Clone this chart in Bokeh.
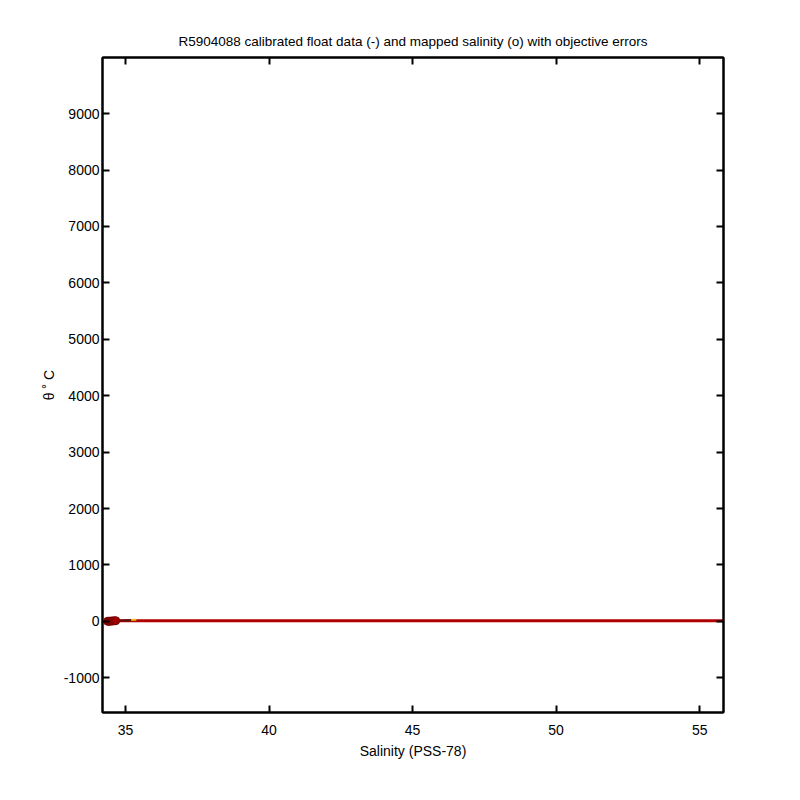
from bokeh.plotting import figure
from bokeh.models import LinearAxis, FixedTicker, Range1d
from bokeh.embed import file_html
from bokeh.resources import INLINE

# ---- data ----
title_text = "R5904088 calibrated float data (-) and mapped salinity (o) with objective errors"
x_ticks = [35, 40, 45, 50, 55]
y_ticks = [-1000, 0, 1000, 2000, 3000, 4000, 5000, 6000, 7000, 8000, 9000]

# calibrated float profiles (salinity, potential temperature)
float_sal_a = [34.36, 34.40, 34.45, 34.55, 34.70, 34.90, 35.10, 35.30]
float_theta_a = [1.2, 2.0, 3.5, 6.0, 10.0, 16.0, 22.0, 26.0]
float_sal_b = [34.34, 34.37, 34.42]
float_theta_b = [1.0, 1.5, 2.5]
float_sal_c = [35.20, 35.30, 35.38]
float_theta_c = [24.0, 27.0, 28.0]

# mapped salinity (o) with objective errors
map_sal = [34.38, 34.42, 34.46, 34.50, 34.55, 34.60, 34.66]
map_theta = [1.5, 2.5, 3.5, 5.0, 7.0, 9.0, 12.0]
map_err = [0.02, 0.02, 0.03, 0.03, 0.04, 0.05, 0.06]
# mapped salinity outlier line running to the right limit
map_line_sal = [34.66, 55.83]
map_line_theta = [12.0, 12.0]

x_min, x_max = 34.2, 55.83
y_min, y_max = -1615, 9994

p = figure(width=784, height=784, output_backend="svg", toolbar_location=None,
           x_range=Range1d(x_min, x_max), y_range=Range1d(y_min, y_max),
           min_border_left=102, min_border_right=61, min_border_top=57, min_border_bottom=72,
           x_axis_label="Salinity (PSS-78)", y_axis_label="θ ˚ C")

p.title.text = title_text
p.title.align = "center"
p.title.text_font = "Liberation Sans"
p.title.text_font_size = "13.5px"
p.title.text_font_style = "normal"
p.title.text_color = "black"
p.title.standoff = 18

p.grid.visible = False
p.outline_line_color = "black"
p.outline_line_width = 2
p.background_fill_color = "white"
p.border_fill_color = "white"

for ax in (p.xaxis[0], p.yaxis[0]):
    ax.major_tick_in = 7
    ax.major_tick_out = 0
    ax.minor_tick_in = 0
    ax.minor_tick_out = 0
    ax.axis_line_width = 2
    ax.major_tick_line_width = 2
    ax.major_label_text_font = "Liberation Sans"
    ax.major_label_text_font_size = "14px"
    ax.major_label_text_color = "black"
    ax.axis_label_text_font = "Liberation Sans"
    ax.axis_label_text_font_size = "14px"
    ax.axis_label_text_font_style = "normal"
    ax.axis_label_text_color = "black"

p.xaxis[0].ticker = FixedTicker(ticks=x_ticks)
p.yaxis[0].ticker = FixedTicker(ticks=y_ticks)
p.yaxis[0].major_label_overrides = {t: str(t) for t in y_ticks}
p.xaxis[0].major_label_standoff = 12
p.yaxis[0].major_label_standoff = 3
p.xaxis[0].axis_label_standoff = 5
p.yaxis[0].axis_label_standoff = 4

for loc, tick in (("right", y_ticks), ("above", x_ticks)):
    ax = LinearAxis(ticker=FixedTicker(ticks=tick))
    ax.major_tick_in = 7
    ax.major_tick_out = 0
    ax.minor_tick_in = 0
    ax.minor_tick_out = 0
    ax.axis_line_width = 2
    ax.major_tick_line_width = 2
    ax.major_label_overrides = {t: "" for t in tick}
    ax.major_label_standoff = 0
    p.add_layout(ax, loc)

# mapped salinity line (red)
p.line(map_line_sal, map_line_theta, line_color="#b00000", line_width=3)
p.line(map_sal, map_theta, line_color="#b00000", line_width=3)

# float data lines
p.line(float_sal_b, float_theta_b, line_color="#7fd13b", line_width=2)
p.line(float_sal_a, float_theta_a, line_color="#5a1010", line_width=2)
p.line(float_sal_c, float_theta_c, line_color="#e8c020", line_width=2)

# mapped salinity markers with error bars
err_lo = [s - e for s, e in zip(map_sal, map_err)]
err_hi = [s + e for s, e in zip(map_sal, map_err)]
p.segment(err_lo, map_theta, err_hi, map_theta, line_color="#b00000", line_width=2)
p.scatter(map_sal, map_theta, size=8, fill_color="#a00000", line_color="#7a0000", line_width=1)

open("out.html", "w").write(file_html(p, INLINE))
